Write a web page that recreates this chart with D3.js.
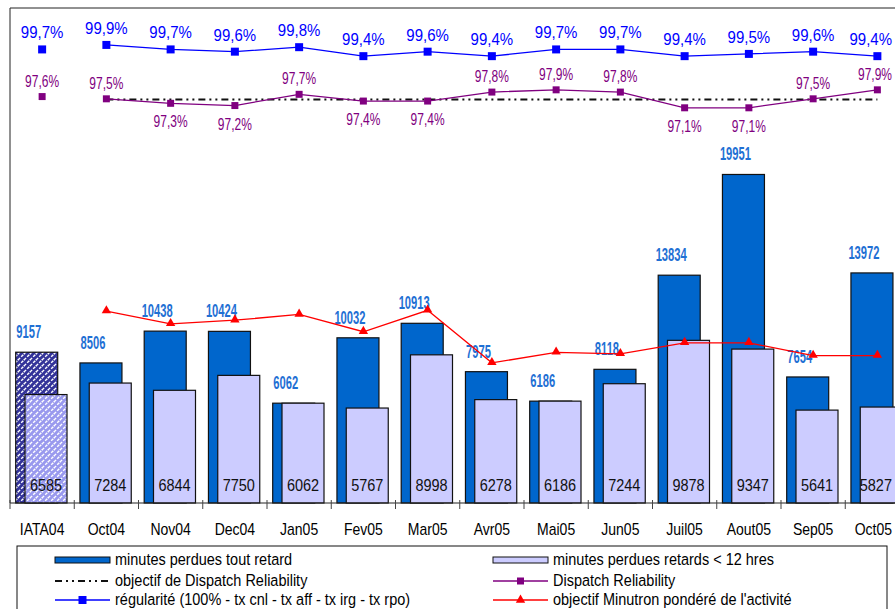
<!DOCTYPE html>
<html>
<head>
<meta charset="utf-8">
<script src="https://cdn.jsdelivr.net/npm/d3@7/dist/d3.min.js"></script>
<style>
  html, body { margin: 0; padding: 0; background: #fff; }
  svg { display: block; }
</style>
</head>
<body>
<div id="chart"></div>
<script>
// ---------- data ----------
const categories = ["IATA04","Oct04","Nov04","Dec04","Jan05","Fev05","Mar05","Avr05","Mai05","Jun05","Juil05","Aout05","Sep05","Oct05"];
const totalDelay = [9157, 8506, 10438, 10424, 6062, 10032, 10913, 7975, 6186, 8118, 13834, 19951, 7654, 13972];
const shortDelay = [6585, 7284, 6844, 7750, 6062, 5767, 8998, 6278, 6186, 7244, 9878, 9347, 5641, 5827];
const regularity = [99.7, 99.9, 99.7, 99.6, 99.8, 99.4, 99.6, 99.4, 99.7, 99.7, 99.4, 99.5, 99.6, 99.4];
const dispatch   = [97.6, 97.5, 97.3, 97.2, 97.7, 97.4, 97.4, 97.8, 97.9, 97.8, 97.1, 97.1, 97.5, 97.9];
const dispatchTarget = [null, 97.5, 97.5, 97.5, 97.5, 97.5, 97.5, 97.5, 97.5, 97.5, 97.5, 97.5, 97.5, 97.5];
const minutronTarget = [null, 11650, 10880, 11100, 11450, 10400, 11700, 8510, 9150, 9060, 9730, 9730, 8950, 8950];
const legendLabels = [
  "minutes perdues tout retard", "minutes perdues retards < 12 hres",
  "objectif de Dispatch Reliability", "Dispatch Reliability",
  "régularité (100% - tx cnl - tx aff - tx irg - tx rpo)", "objectif Minutron pondéré de l'activité"
];

// ---------- layout ----------
const W = 895, H = 609;
const plotLeft = 10, plotTop = 8, plotBottom = 503;
const step = 64.25;
const plotRight = plotLeft + step * categories.length;
const maxTextRight = W - 3;

const svg = d3.select("#chart").append("svg").attr("width", W).attr("height", H);

const x = d3.scaleBand().domain(categories).range([plotLeft, plotRight]).padding(0);
const y = d3.scaleLinear().domain([0, 30000]).range([plotBottom, 9]);
const yPct = d3.scaleLinear().domain([79.5, 101.5]).range([plotBottom, 9]);

const SANS = "'Liberation Sans', Arial, sans-serif";

// place a centred text with scaling, keeping it inside the right edge
function placeText(sel, fx, fy, sx, sy) {
  sel.each(function (d, i) {
    const t = d3.select(this);
    const w = this.getComputedTextLength() * sx;
    let cxv = fx(d, i);
    if (cxv + w / 2 > maxTextRight) cxv = maxTextRight - w / 2;
    t.attr("transform", `translate(${cxv},${fy(d, i)}) scale(${sx},${sy})`);
  });
}

// patterns
const defs = svg.append("defs");
function hatch(id, bg) {
  const p = defs.append("pattern").attr("id", id).attr("patternUnits", "userSpaceOnUse")
    .attr("width", 6).attr("height", 6);
  p.append("rect").attr("width", 6).attr("height", 6).attr("fill", bg);
  p.append("path").attr("d", "M0,6 L6,0 M-1.5,1.5 L1.5,-1.5 M4.5,7.5 L7.5,4.5")
    .attr("stroke", "#fff").attr("stroke-width", 1.4).attr("stroke-dasharray", "3,1.5");
}
hatch("hatchDark", "#333399");
hatch("hatchLight", "#9999ee");

// plot border
svg.append("path")
  .attr("d", `M${plotLeft},${plotBottom} L${plotLeft},${plotTop} L${W + 5},${plotTop}`)
  .attr("fill", "none").attr("stroke", "#222").attr("stroke-width", 1);

// ---------- bars ----------
const darkOff = 5.7, lightOff = 15, barW = 42;
const gBars = svg.append("g");
gBars.selectAll("rect.dark").data(categories).join("rect").attr("class", "dark")
  .attr("x", d => x(d) + darkOff)
  .attr("y", (d, i) => y(totalDelay[i]))
  .attr("width", barW)
  .attr("height", (d, i) => y(0) - y(totalDelay[i]))
  .attr("fill", (d, i) => i === 0 ? "url(#hatchDark)" : "#0066cc")
  .attr("stroke", "#111").attr("stroke-width", 1.2);

gBars.selectAll("rect.light").data(categories).join("rect").attr("class", "light")
  .attr("x", d => x(d) + lightOff)
  .attr("y", (d, i) => y(shortDelay[i]))
  .attr("width", barW)
  .attr("height", (d, i) => y(0) - y(shortDelay[i]))
  .attr("fill", (d, i) => i === 0 ? "url(#hatchLight)" : "#ccccff")
  .attr("stroke", "#111").attr("stroke-width", 1.2);

// axis
const gAxis = svg.append("g");
gAxis.append("line").attr("x1", plotLeft).attr("x2", W + 5)
  .attr("y1", plotBottom).attr("y2", plotBottom).attr("stroke", "#222");
gAxis.selectAll("line.tick").data(categories).join("line").attr("class", "tick")
  .attr("x1", d => x(d)).attr("x2", d => x(d))
  .attr("y1", plotBottom - 3).attr("y2", plotBottom + 6)
  .attr("stroke", "#444");
gAxis.selectAll("text").data(categories).join("text")
  .attr("text-anchor", "middle").attr("font-family", SANS).attr("font-size", 14)
  .attr("fill", "#000").text(d => d)
  .call(placeText, d => x(d) + x.bandwidth() / 2, () => 535, 1, 1.15);

// bar labels
svg.append("g").selectAll("text").data(categories).join("text")
  .attr("text-anchor", "middle").attr("font-family", SANS).attr("font-size", 14.5)
  .attr("fill", "#111").text((d, i) => shortDelay[i])
  .call(placeText, d => x(d) + lightOff + barW / 2, () => 491, 1, 1.15);

svg.append("g").selectAll("text").data(categories).join("text")
  .attr("text-anchor", "middle").attr("font-family", SANS).attr("font-weight", "bold")
  .attr("font-size", 14).attr("fill", "#1f70d4").text((d, i) => totalDelay[i])
  .call(placeText, d => x(d) + darkOff + barW / 2 - 8, (d, i) => y(totalDelay[i]) - 14, 0.8, 1.25);

// ---------- lines ----------
const cx = d => x(d) + x.bandwidth() / 2;
const fmtPct = v => v.toFixed(1).replace(".", ",") + "%";

// Minutron target (red)
const redPts = categories.map((d, i) => [cx(d), minutronTarget[i]]).filter(p => p[1] != null);
svg.append("path").attr("d", d3.line().x(p => p[0]).y(p => y(p[1]))(redPts))
  .attr("fill", "none").attr("stroke", "#ff0000").attr("stroke-width", 1.3);
svg.append("g").selectAll("path").data(redPts).join("path")
  .attr("d", d3.symbol(d3.symbolTriangle, 38))
  .attr("transform", p => `translate(${p[0]},${y(p[1]) - 0.5})`)
  .attr("fill", "#ff0000");

// Dispatch target (dashed black)
const dtPts = categories.map((d, i) => [cx(d), dispatchTarget[i]]).filter(p => p[1] != null);
svg.append("path").attr("d", d3.line().x(p => p[0]).y(p => yPct(p[1]) + 0.8)(dtPts))
  .attr("fill", "none").attr("stroke", "#111").attr("stroke-width", 2)
  .attr("stroke-dasharray", "7,4,2,4,2,4");

// Dispatch reliability (purple)
const dPts = categories.map((d, i) => [cx(d), dispatch[i]]);
svg.append("path").attr("d", d3.line().x(p => p[0]).y(p => yPct(p[1]))(dPts.slice(1)))
  .attr("fill", "none").attr("stroke", "#800080").attr("stroke-width", 1.3);
svg.append("g").selectAll("path").data(dPts).join("path")
  .attr("d", d3.symbol(d3.symbolSquare, 49))
  .attr("transform", p => `translate(${p[0]},${yPct(p[1])})`)
  .attr("fill", "#800080");
svg.append("g").selectAll("text").data(dPts).join("text")
  .attr("text-anchor", "middle").attr("font-family", SANS).attr("font-size", 15)
  .attr("fill", "#800080").text(p => fmtPct(p[1]))
  .call(placeText, p => p[0], p => p[1] < 97.5 ? yPct(p[1]) + 24 : yPct(p[1]) - 10, 0.8, 1.08);

// Regularity (blue)
const rPts = categories.map((d, i) => [cx(d), regularity[i]]);
svg.append("path").attr("d", d3.line().x(p => p[0]).y(p => yPct(p[1]))(rPts.slice(1)))
  .attr("fill", "none").attr("stroke", "#0000ff").attr("stroke-width", 1.3);
svg.append("g").selectAll("path").data(rPts).join("path")
  .attr("d", d3.symbol(d3.symbolSquare, 64))
  .attr("transform", p => `translate(${p[0]},${yPct(p[1])})`)
  .attr("fill", "#0000ff");
svg.append("g").selectAll("text").data(rPts).join("text")
  .attr("text-anchor", "middle").attr("font-family", SANS).attr("font-size", 15)
  .attr("fill", "#0000ff").text(p => fmtPct(p[1]))
  .call(placeText, p => p[0], p => yPct(p[1]) - 11, 1, 1.08);

// ---------- legend ----------
const lg = svg.append("g");
lg.append("rect").attr("x", 17).attr("y", 546).attr("width", 870).attr("height", 80)
  .attr("fill", "#fff").attr("stroke", "#111");
const colX = [55, 493];
const rowY = [560, 581, 600];
const swW = 55;
function legendText(col, row, txt) {
  lg.append("text")
    .attr("transform", `translate(${colX[col] + swW + 5},${rowY[row] + 5}) scale(1,1.12)`)
    .attr("font-family", SANS).attr("font-size", 14.5).attr("fill", "#000").text(txt);
}
// row 0
lg.append("rect").attr("x", colX[0]).attr("y", rowY[0] - 3).attr("width", swW).attr("height", 6)
  .attr("fill", "#0066cc").attr("stroke", "#111");
legendText(0, 0, legendLabels[0]);
lg.append("rect").attr("x", colX[1]).attr("y", rowY[0] - 3).attr("width", swW).attr("height", 6)
  .attr("fill", "#ccccff").attr("stroke", "#111");
legendText(1, 0, legendLabels[1]);
// row 1
lg.append("line").attr("x1", colX[0]).attr("x2", colX[0] + swW).attr("y1", rowY[1]).attr("y2", rowY[1])
  .attr("stroke", "#111").attr("stroke-width", 2).attr("stroke-dasharray", "7,4,2,4,2,4");
legendText(0, 1, legendLabels[2]);
lg.append("line").attr("x1", colX[1]).attr("x2", colX[1] + swW).attr("y1", rowY[1]).attr("y2", rowY[1])
  .attr("stroke", "#800080").attr("stroke-width", 1.3);
lg.append("path").attr("d", d3.symbol(d3.symbolSquare, 49))
  .attr("transform", `translate(${colX[1] + swW / 2},${rowY[1]})`).attr("fill", "#800080");
legendText(1, 1, legendLabels[3]);
// row 2
lg.append("line").attr("x1", colX[0]).attr("x2", colX[0] + swW).attr("y1", rowY[2]).attr("y2", rowY[2])
  .attr("stroke", "#0000ff").attr("stroke-width", 1.3);
lg.append("path").attr("d", d3.symbol(d3.symbolSquare, 64))
  .attr("transform", `translate(${colX[0] + swW / 2},${rowY[2]})`).attr("fill", "#0000ff");
legendText(0, 2, legendLabels[4]);
lg.append("line").attr("x1", colX[1]).attr("x2", colX[1] + swW).attr("y1", rowY[2]).attr("y2", rowY[2])
  .attr("stroke", "#ff0000").attr("stroke-width", 1.3);
lg.append("path").attr("d", d3.symbol(d3.symbolTriangle, 38))
  .attr("transform", `translate(${colX[1] + swW / 2},${rowY[2]})`).attr("fill", "#ff0000");
legendText(1, 2, legendLabels[5]);
</script>
</body>
</html>
